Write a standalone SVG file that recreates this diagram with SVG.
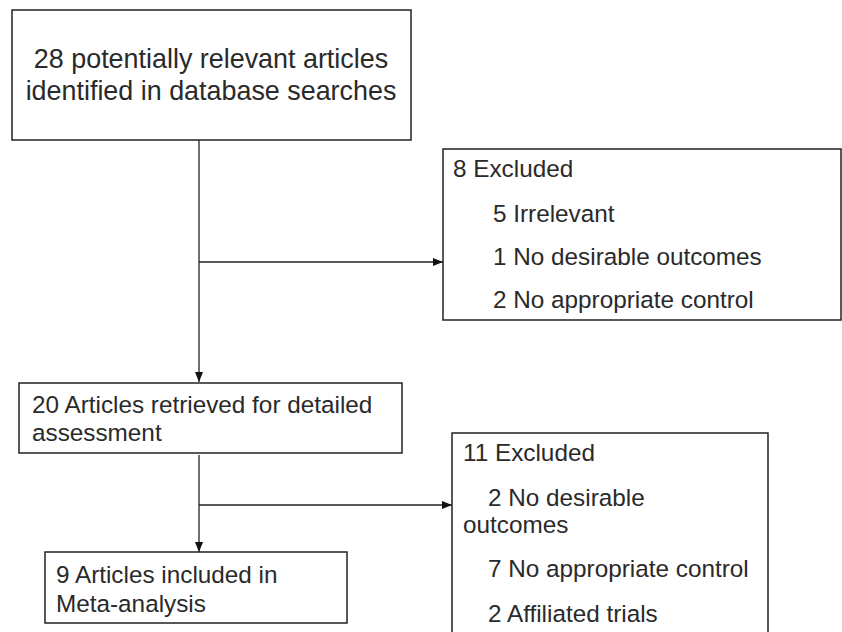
<svg xmlns="http://www.w3.org/2000/svg" width="842" height="632" viewBox="0 0 842 632">
<defs>
<style>
.box{fill:#fff;stroke:#222;stroke-width:1.5}
.t{font-family:"Liberation Sans",Arial,sans-serif;font-size:24.3px;fill:#2a2a2a}
.big{font-size:26.9px}
.ln{fill:none;stroke:#222;stroke-width:1.3}
</style>
<marker id="ah" viewBox="0 0 10 8" refX="10" refY="4" markerWidth="10" markerHeight="8" markerUnits="userSpaceOnUse" orient="auto">
<path d="M0,0 L10,4 L0,8 z" fill="#111"/>
</marker>
</defs>
<rect width="842" height="632" fill="#fff"/>
<g id="connectors">
<line class="ln" x1="199" y1="140" x2="199" y2="382" marker-end="url(#ah)"/>
<line class="ln" x1="199" y1="262" x2="443" y2="262" marker-end="url(#ah)"/>
<line class="ln" x1="199" y1="455" x2="199" y2="552" marker-end="url(#ah)"/>
<line class="ln" x1="199" y1="505" x2="452" y2="505" marker-end="url(#ah)"/>
</g>
<g id="n1">
<rect class="box" x="12" y="10" width="399" height="130"/>
<text class="t big" x="211" y="68" text-anchor="middle">28 potentially relevant articles</text>
<text class="t big" x="211" y="100" text-anchor="middle">identified in database searches</text>
</g>
<g id="n2">
<rect class="box" x="443" y="149" width="398" height="171"/>
<text class="t" x="453" y="177">8 Excluded</text>
<text class="t" x="493" y="222">5 Irrelevant</text>
<text class="t" x="493" y="265">1 No desirable outcomes</text>
<text class="t" x="493" y="308">2 No appropriate control</text>
</g>
<g id="n3">
<rect class="box" x="19" y="383" width="383" height="70"/>
<text class="t" x="32" y="413">20 Articles retrieved for detailed</text>
<text class="t" x="32" y="441">assessment</text>
</g>
<g id="n4">
<rect class="box" x="45" y="552" width="302" height="71"/>
<text class="t" x="56" y="583">9 Articles included in</text>
<text class="t" x="56" y="612">Meta-analysis</text>
</g>
<g id="n5">
<rect class="box" x="452" y="433" width="316" height="210"/>
<text class="t" x="463" y="461">11 Excluded</text>
<text class="t" x="488" y="506">2 No desirable</text>
<text class="t" x="463" y="533">outcomes</text>
<text class="t" x="488" y="577">7 No appropriate control</text>
<text class="t" x="488" y="622">2 Affiliated trials</text>
</g>
</svg>
